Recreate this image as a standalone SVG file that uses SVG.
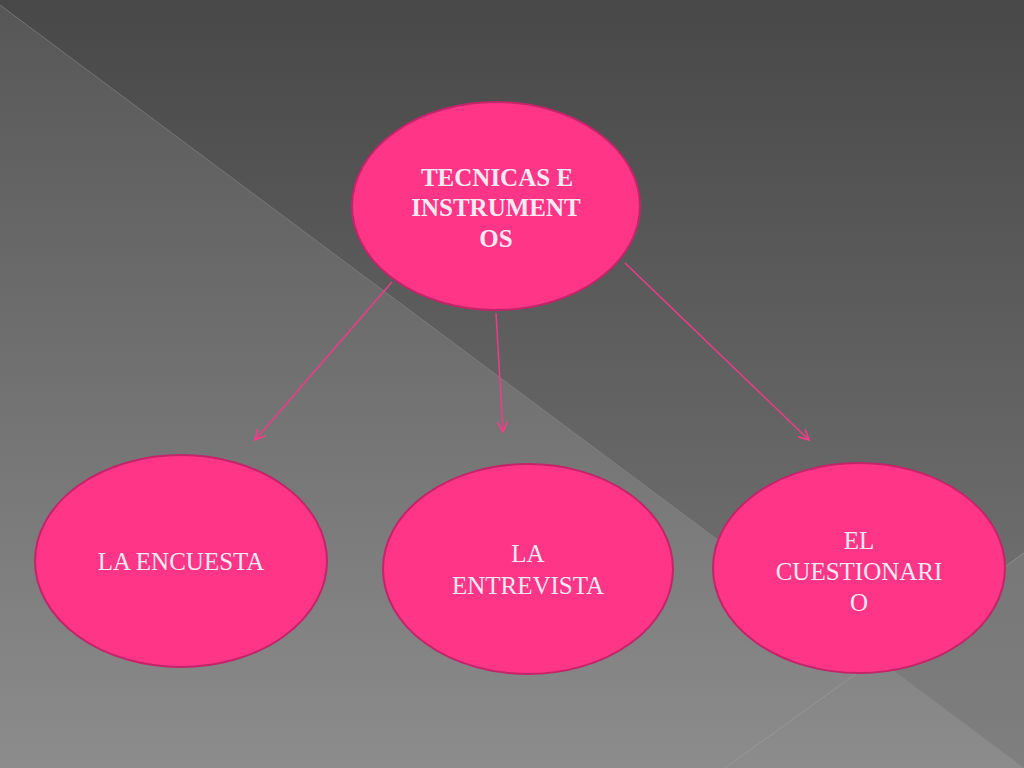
<svg xmlns="http://www.w3.org/2000/svg" width="1024" height="768" viewBox="0 0 1024 768">
<defs>
<linearGradient id="bgTop" x1="0" y1="0" x2="0" y2="1">
<stop offset="0" stop-color="#484848"/>
<stop offset="1" stop-color="#7a7a7a"/>
</linearGradient>
<linearGradient id="bgLow" x1="0" y1="0" x2="0" y2="1">
<stop offset="0" stop-color="#575757"/>
<stop offset="1" stop-color="#8c8c8c"/>
</linearGradient>
<marker id="arr" viewBox="0 0 12 12" refX="11" refY="6" markerWidth="12" markerHeight="12" markerUnits="userSpaceOnUse" orient="auto">
<path d="M1,1 L11,6 L1,11" fill="none" stroke="#ff3a8a" stroke-width="1.5"/>
</marker>
<style>
.node{fill:#ff3587;stroke:#c4246a;stroke-width:2}
.t{font-family:"Liberation Serif","Times New Roman",serif;font-size:25px;fill:#fde9f2;text-anchor:middle}
.b{font-weight:bold}
.c{stroke:#f23a86;stroke-width:1.5;fill:none;marker-end:url(#arr)}
</style>
</defs>
<g id="background">
<rect width="1024" height="768" fill="url(#bgTop)"/>
<polygon points="0,5 1024,768 0,768" fill="url(#bgLow)"/>
<polygon points="878,659 1024,553 1024,768" fill="#858585" opacity="0.45"/>
<line x1="0" y1="5" x2="1024" y2="768" stroke="#8a8a8a" stroke-width="1" opacity="0.6"/>
<line x1="725" y1="768" x2="1024" y2="553" stroke="#a0a0a0" stroke-width="1" opacity="0.6"/>
</g>
<g id="connectors">
<line class="c" x1="392" y1="282" x2="255" y2="440"/>
<line class="c" x1="496" y1="313" x2="503" y2="432"/>
<line class="c" x1="625" y1="263" x2="809" y2="440"/>
</g>
<g id="node-tecnicas">
<ellipse class="node" cx="496" cy="206" rx="144" ry="104"/>
<text class="t b" x="497" y="186">TECNICAS E</text>
<text class="t b" x="496" y="216">INSTRUMENT</text>
<text class="t b" x="496" y="247">OS</text>
</g>
<g id="node-encuesta">
<ellipse class="node" cx="181" cy="561" rx="146" ry="106"/>
<text class="t" x="181" y="570">LA ENCUESTA</text>
</g>
<g id="node-entrevista">
<ellipse class="node" cx="528" cy="569" rx="145" ry="105"/>
<text class="t" x="528" y="562">LA</text>
<text class="t" x="528" y="594">ENTREVISTA</text>
</g>
<g id="node-cuestionario">
<ellipse class="node" cx="859" cy="568" rx="146" ry="105"/>
<text class="t" x="859" y="549">EL</text>
<text class="t" x="859" y="580">CUESTIONARI</text>
<text class="t" x="859" y="611">O</text>
</g>
</svg>
